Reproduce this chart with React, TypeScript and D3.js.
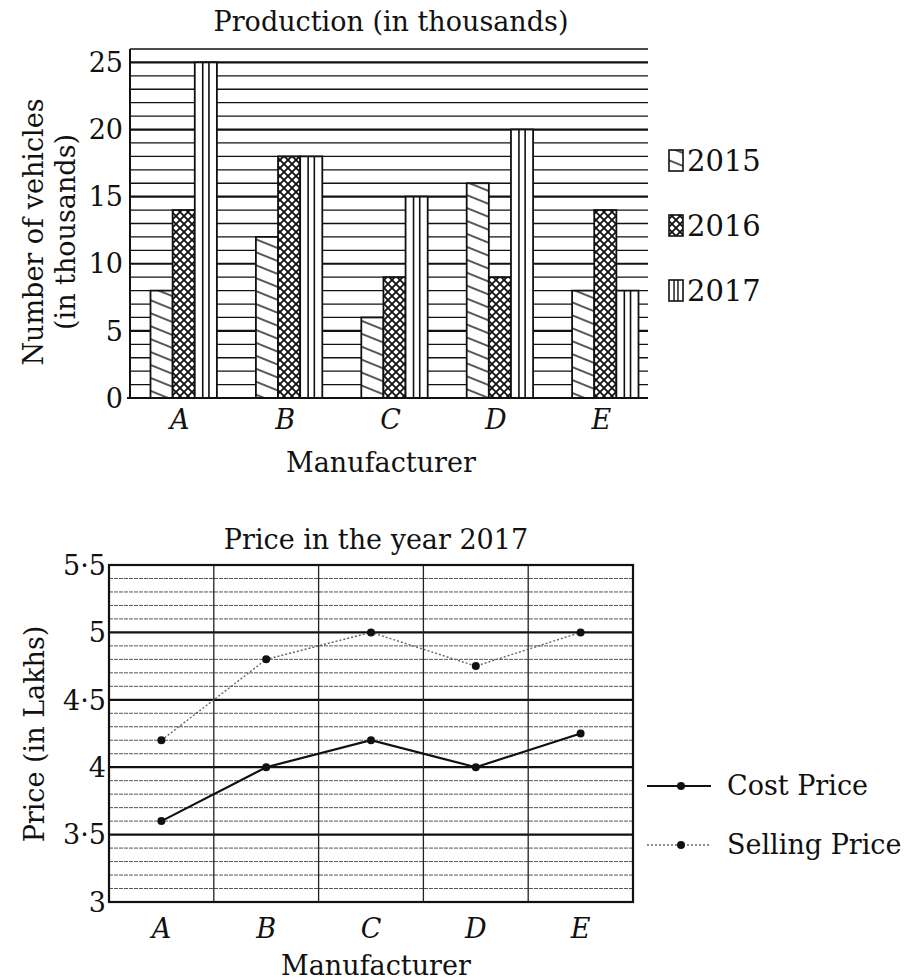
import * as d3 from "d3";

const manufacturers = ["A", "B", "C", "D", "E"];
const years = ["2015", "2016", "2017"];
const production2015 = [8, 12, 6, 16, 8];
const production2016 = [14, 18, 9, 9, 14];
const production2017 = [25, 18, 15, 20, 8];
const prodTicks = [0, 5, 10, 15, 20, 25];

const costPrice = [3.6, 4.0, 4.2, 4.0, 4.25];
const sellingPrice = [4.2, 4.8, 5.0, 4.75, 5.0];
const priceTicks = [3, 3.5, 4, 4.5, 5, 5.5];

const font = "'DejaVu Serif', serif";
const fmtPrice = (v: number) => String(v).replace(".", "·");

export default function App() {
  const W = 907;
  const H = 980;
  const fs = 27;

  // ---- top chart scales
  const yTop = d3.scaleLinear().domain([0, 26]).range([398, 49]);
  const xTop = d3
    .scaleBand<string>()
    .domain(manufacturers)
    .range([131, 658])
    .paddingInner(0.37)
    .paddingOuter(0.185);
  const xYear = d3.scaleBand<string>().domain(years).range([0, xTop.bandwidth()]);
  const series = [production2015, production2016, production2017];
  const fills = ["url(#p2015)", "url(#p2016)", "#fff"];
  const topLeft = 130;
  const topRight = 648;

  // ---- bottom chart scales
  const yBot = d3.scaleLinear().domain([3, 5.5]).range([902, 565]);
  const xBot = d3.scaleBand<string>().domain(manufacturers).range([109, 633]);
  const cx = (m: string) => (xBot(m) as number) + xBot.bandwidth() / 2;
  const line = d3
    .line<number>()
    .x((_, i) => cx(manufacturers[i]))
    .y((d) => yBot(d));
  const minorTicks = d3.range(30, 56).map((v) => v / 10);

  return (
    <svg
      width={W}
      height={H}
      style={{ position: "absolute", left: 0, top: 0, background: "#fff" }}
      fontFamily={font}
    >
      <defs>
        <pattern id="p2015" width="10" height="12" patternUnits="userSpaceOnUse" patternTransform="rotate(22)">
          <rect width="10" height="12" fill="#fff" />
          <line x1="0" x2="10" y1="6" y2="6" stroke="#111" strokeWidth="1.4" />
        </pattern>
        <pattern id="p2016" width="8" height="8" patternUnits="userSpaceOnUse">
          <rect width="8" height="8" fill="#fff" />
          <path d="M0,0L8,8M8,0L0,8" stroke="#111" strokeWidth="1.8" />
        </pattern>
      </defs>

      {/* ===== Top chart ===== */}
      <text x={391} y={31} textAnchor="middle" fontSize={fs} fill="#111">
        Production (in thousands)
      </text>

      {d3.range(1, 27).map((v) => (
        <line
          key={"hg" + v}
          x1={topLeft}
          x2={topRight}
          y1={yTop(v)}
          y2={yTop(v)}
          stroke="#111"
          strokeWidth={v % 5 === 0 ? 2.2 : 1.3}
        />
      ))}

      {manufacturers.map((m, i) =>
        series.map((s, k) => {
          const x = (xTop(m) as number) + (xYear(years[k]) as number);
          const w = xYear.bandwidth();
          const y = yTop(s[i]);
          const h = yTop(0) - y;
          return (
            <g key={m + k}>
              <rect x={x} y={y} width={w} height={h} fill={fills[k]} stroke="#111" strokeWidth={1.8} />
              {k === 2 &&
                [0.36, 0.64].map((f) => (
                  <line key={f} x1={x + w * f} x2={x + w * f} y1={y} y2={yTop(0)} stroke="#111" strokeWidth={1.6} />
                ))}
            </g>
          );
        })
      )}

      <line x1={topLeft} x2={topLeft} y1={yTop(26)} y2={yTop(0)} stroke="#111" strokeWidth={2} />
      <line x1={topLeft - 3} x2={topRight} y1={yTop(0)} y2={yTop(0)} stroke="#111" strokeWidth={2.2} />

      {prodTicks.map((t) => (
        <text key={"yt" + t} x={123} y={yTop(t)} dy="0.36em" textAnchor="end" fontSize={fs} fill="#111">
          {t}
        </text>
      ))}
      {manufacturers.map((m) => (
        <text
          key={"xt" + m}
          x={(xTop(m) as number) + xTop.bandwidth() / 2 - 4}
          y={429}
          textAnchor="middle"
          fontSize={fs}
          fontStyle="italic"
          fill="#111"
        >
          {m}
        </text>
      ))}
      <text x={381} y={472} textAnchor="middle" fontSize={fs} fill="#111">
        Manufacturer
      </text>
      <g transform="translate(0,232) rotate(-90)">
        <text x={0} y={43} textAnchor="middle" fontSize={fs} fill="#111">
          Number of vehicles
        </text>
        <text x={0} y={75} textAnchor="middle" fontSize={fs} fill="#111">
          (in thousands)
        </text>
      </g>

      {years.map((yr, k) => {
        const ly = 150 + k * 65;
        return (
          <g key={"lg" + yr}>
            <rect x={669} y={ly} width={14} height={21} fill={fills[k]} stroke="#111" strokeWidth={1.6} />
            {k === 2 &&
              [0.36, 0.64].map((f) => (
                <line key={f} x1={669 + 14 * f} x2={669 + 14 * f} y1={ly} y2={ly + 21} stroke="#111" strokeWidth={1.4} />
              ))}
            <text x={687} y={ly + 21} fontSize={29} fill="#111">
              {yr}
            </text>
          </g>
        );
      })}

      {/* ===== Bottom chart ===== */}
      <text x={376} y={549} textAnchor="middle" fontSize={fs} fill="#111">
        Price in the year 2017
      </text>

      {minorTicks.map((v) => {
        const major = Math.round(v * 10) % 5 === 0;
        return (
          <line
            key={"mg" + v}
            x1={109}
            x2={633}
            y1={yBot(v)}
            y2={yBot(v)}
            stroke={major ? "#111" : "#555"}
            strokeWidth={major ? 2.2 : 1}
            strokeDasharray={major ? undefined : "4 1"}
          />
        );
      })}
      {manufacturers.slice(1).map((m) => (
        <line key={"vg" + m} x1={xBot(m)} x2={xBot(m)} y1={565} y2={902} stroke="#222" strokeWidth={1.3} />
      ))}
      <rect x={109} y={565} width={524} height={337} fill="none" stroke="#111" strokeWidth={2.2} />

      <path d={line(sellingPrice) as string} fill="none" stroke="#666" strokeWidth={1.4} strokeDasharray="2 2" />
      <path d={line(costPrice) as string} fill="none" stroke="#111" strokeWidth={2.2} />
      {sellingPrice.map((v, i) => (
        <circle key={"sp" + i} cx={cx(manufacturers[i])} cy={yBot(v)} r={4} fill="#111" />
      ))}
      {costPrice.map((v, i) => (
        <circle key={"cp" + i} cx={cx(manufacturers[i])} cy={yBot(v)} r={4} fill="#111" />
      ))}

      {priceTicks.map((t) => (
        <text key={"pt" + t} x={106} y={yBot(t)} dy="0.36em" textAnchor="end" fontSize={fs} fill="#111">
          {fmtPrice(t)}
        </text>
      ))}
      {manufacturers.map((m) => (
        <text key={"bx" + m} x={cx(m)} y={938} textAnchor="middle" fontSize={fs} fontStyle="italic" fill="#111">
          {m}
        </text>
      ))}
      <text x={376} y={975} textAnchor="middle" fontSize={fs} fill="#111">
        Manufacturer
      </text>
      <text transform="translate(44,734) rotate(-90)" textAnchor="middle" fontSize={fs} fill="#111">
        Price (in Lakhs)
      </text>

      <line x1={647} x2={711} y1={786} y2={786} stroke="#111" strokeWidth={2.2} />
      <circle cx={681} cy={786} r={4} fill="#111" />
      <text x={727} y={795} fontSize={fs} fill="#111">
        Cost Price
      </text>
      <line x1={647} x2={711} y1={845} y2={845} stroke="#666" strokeWidth={1.4} strokeDasharray="2 2" />
      <circle cx={681} cy={845} r={4} fill="#111" />
      <text x={727} y={854} fontSize={fs} fill="#111">
        Selling Price
      </text>
    </svg>
  );
}
